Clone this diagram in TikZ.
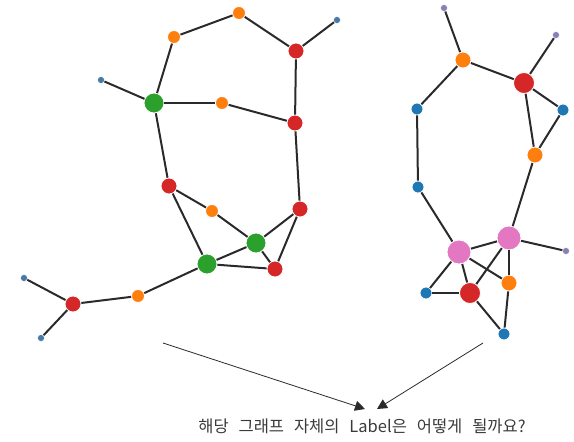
\documentclass[tikz,border=0pt]{standalone}
\usepackage{fontspec}
\newfontfamily\krfont{Noto Sans CJK KR}
\usetikzlibrary{arrows.meta}
\definecolor{cgreen}{HTML}{2CA02C}
\definecolor{cred}{HTML}{D62728}
\definecolor{corange}{HTML}{FF7F0E}
\definecolor{cblue}{HTML}{1F77B4}
\definecolor{cpink}{HTML}{E377C2}
\definecolor{ctinyb}{HTML}{4A78A8}
\definecolor{ctinyp}{HTML}{8A80B8}
\definecolor{cedge}{HTML}{2A2A2A}
\definecolor{ctext}{HTML}{3A3A3A}
\newcommand{\wsp}{\hspace{0.6em}}
\begin{document}
\begin{tikzpicture}[x=1pt,y=-1pt,
  vtx/.style={circle,inner sep=0pt,draw=white,line width=0.8pt},
  vgreen/.style={vtx,fill=cgreen,minimum size=20pt},
  vred/.style={vtx,fill=cred,minimum size=16pt},
  vbigred/.style={vtx,fill=cred,minimum size=21pt},
  vorange/.style={vtx,fill=corange,minimum size=13pt},
  vbigorange/.style={vtx,fill=corange,minimum size=16pt},
  vblue/.style={vtx,fill=cblue,minimum size=12pt},
  vpink/.style={vtx,fill=cpink,minimum size=24pt},
  vtinyb/.style={vtx,fill=ctinyb,minimum size=7pt,line width=0.5pt},
  vtinyp/.style={vtx,fill=ctinyp,minimum size=7pt,line width=0.5pt},
  edge/.style={draw=cedge,line width=2pt},
  pointer/.style={draw=cedge,line width=0.8pt,-{Triangle[width=10pt,length=10pt]}}]
\useasboundingbox (0,0) rectangle (574,442);
% left graph
\node[vorange] (o1) at (174,37) {};
\node[vorange] (o2) at (239,13) {};
\node[vred] (r1) at (296,51) {};
\node[vtinyb] (b1) at (337,20) {};
\node[vtinyb] (bL) at (101,80) {};
\node[vgreen] (g1) at (154,103) {};
\node[vorange] (o3) at (222,103) {};
\node[vred] (r2) at (295,123) {};
\node[vred] (r3) at (169,186) {};
\node[vorange] (o4) at (212,211) {};
\node[vred] (r4) at (300,209) {};
\node[vgreen] (g2) at (256,243) {};
\node[vgreen] (g3) at (207,264) {};
\node[vred] (r5) at (275,269) {};
\node[vorange] (o5) at (138,296) {};
\node[vred] (r6) at (73,304) {};
\node[vtinyb] (b2) at (24,278) {};
\node[vtinyb] (b3) at (41,338) {};
% right graph
\node[vtinyp] (t1) at (444,8) {};
\node[vbigorange] (o6) at (463,60) {};
\node[vtinyp] (t2) at (556,35) {};
\node[vbigred] (r7) at (524,83) {};
\node[vblue] (b4) at (417,109) {};
\node[vblue] (b5) at (563,110) {};
\node[vbigorange] (o7) at (535,155) {};
\node[vblue] (b6) at (418,187) {};
\node[vpink] (p1) at (459,252) {};
\node[vpink] (p2) at (509,238) {};
\node[vtinyp] (t3) at (566,251) {};
\node[vblue] (b7) at (426,293) {};
\node[vbigred] (r8) at (470,293) {};
\node[vbigorange] (o8) at (509,283) {};
\node[vblue] (b8) at (504,334) {};
% text
\node[font=\krfont\fontsize{16.5}{19}\selectfont,text=ctext,inner sep=0pt] (q) at (362,426) {해당\wsp 그래프\wsp 자체의\wsp Label은\wsp 어떻게\wsp 될까요?};
\coordinate (s1) at (163,343);
\coordinate (e1) at (365,409);
\coordinate (s2) at (483,343);
\coordinate (e2) at (377,409);
\foreach \a/\b in {o1/o2,o2/r1,r1/b1,o1/g1,g1/bL,g1/o3,o3/r2,r1/r2,r2/r4,g1/r3,r3/o4,o4/g2,r3/g3,g3/g2,g3/r5,g2/r5,r4/g2,r4/r5,g3/o5,o5/r6,r6/b2,r6/b3,
  t1/o6,o6/r7,o6/b4,r7/t2,r7/b5,r7/o7,b5/o7,o7/p2,b4/b6,b6/p1,p1/p2,p2/t3,p1/b7,p1/r8,p1/o8,p2/r8,p2/o8,b7/r8,r8/b8,o8/b8}
  \draw[edge] (\a) -- (\b);
\draw[pointer] (s1) -- (e1);
\draw[pointer] (s2) -- (e2);
\end{tikzpicture}
\end{document}
